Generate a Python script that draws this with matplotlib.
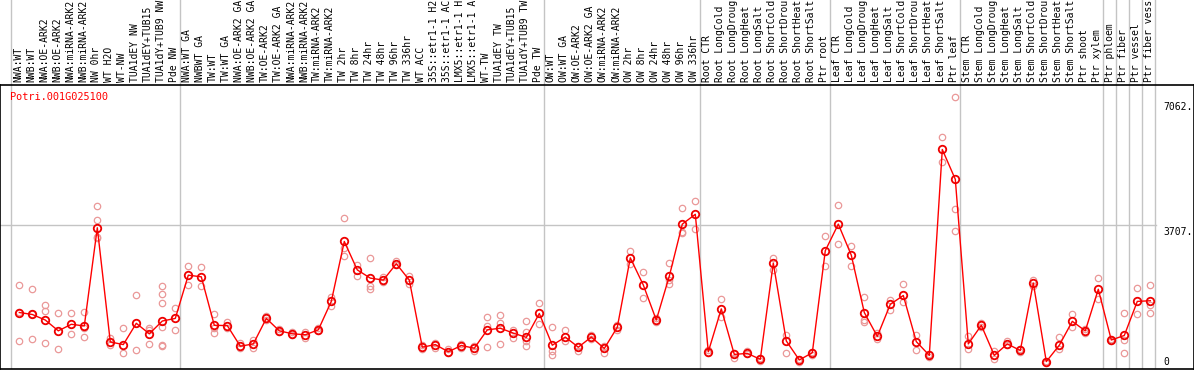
import matplotlib
matplotlib.use('Agg')
import matplotlib.pyplot as plt
import numpy as np

# Sample names, in plotting order (cut to 14 characters as in the chart)
samples = [
    'NWA:WT', 'NWB:WT', 'NWA:OE-ARK2', 'NWB:OE-ARK2', 'NWA:miRNA-ARK2',
    'NWB:miRNA-ARK2', 'NW 0hr', 'WT H2O', 'WT-NW', 'TUA1dEY NW',
    'TUA1dEY+TUB15', 'TUA1dY+TUB9 NW', 'Pde NW',
    'NWA:WT GA', 'NWBWT GA', 'TW:WT', 'TW:WT GA', 'NWA:OE-ARK2 GA',
    'NWB:OE-ARK2 GA', 'TW:OE-ARK2', 'TW:OE-ARK2 GA', 'NWA:miRNA-ARK2',
    'NWB:miRNA-ARK2', 'TW:miRNA-ARK2', 'TW:miRNA-ARK2', 'TW 2hr', 'TW 8hr',
    'TW 24hr', 'TW 48hr', 'TW 96hr', 'TW 336hr', 'WT ACC', '35S::etr1-1 H2',
    '35S::etr1-1 AC', 'LMX5::etr1-1 H', 'LMX5::etr1-1 A', 'WT-TW',
    'TUA1dEY TW', 'TUA1dEY+TUB15', 'TUA1dY+TUB9 TW', 'Pde TW',
    'OW:WT', 'OW:WT GA', 'OW:OE-ARK2', 'OW:OE-ARK2 GA', 'OW:miRNA-ARK2',
    'OW:miRNA-ARK2', 'OW 2hr', 'OW 8hr', 'OW 24hr', 'OW 48hr', 'OW 96hr',
    'OW 336hr',
    'Root CTR', 'Root LongCold', 'Root LongDroug', 'Root LongHeat',
    'Root LongSalt', 'Root ShortCold', 'Root ShortDrou', 'Root ShortHeat',
    'Root ShortSalt', 'Ptr root',
    'Leaf CTR', 'Leaf LongCold', 'Leaf LongDroug', 'Leaf LongHeat',
    'Leaf LongSalt', 'Leaf ShortCold', 'Leaf ShortDrou', 'Leaf ShortHeat',
    'Leaf ShortSalt', 'Ptr leaf',
    'Stem CTR', 'Stem LongCold', 'Stem LongDroug', 'Stem LongHeat',
    'Stem LongSalt', 'Stem ShortCold', 'Stem ShortDrou', 'Stem ShortHeat',
    'Stem ShortSalt', 'Ptr shoot', 'Ptr xylem', 'Ptr phloem', 'Ptr fiber',
    'Ptr vessel', 'Ptr fiber vess',
]

# Mean expression per sample
means = [
    1410, 1358, 1212, 928, 1100, 1057, 3638, 636, 567, 1126, 851, 1186, 1255,
    2391, 2348, 1074, 1066, 524, 584, 1255, 928, 851, 825, 954, 1702, 3277,
    2529, 2314, 2262, 2692, 2262, 498, 567, 378, 541, 472, 954, 997, 868, 756,
    1384, 550, 765, 498, 765, 464, 1023, 2847, 2133, 1212, 2365, 3733, 3991,
    378, 1505, 309, 335, 180, 2709, 662, 163, 352, 3036,
    3733, 2916, 1410, 782, 1625, 1857, 645, 283, 5695, 4912,
    584, 1074, 283, 584, 412, 2185, 120, 550, 1178, 928, 2021, 687, 807,
    1702, 1719,
]

# Individual replicates per sample
replicates = [
    [2133, 1427, 670], [2029, 1358, 722], [1599, 1444, 610], [1410, 455],
    [1393, 842], [1419, 997, 765], [4197, 3853, 3406, 3363], [739, 567],
    [997, 352], [1883, 412], [997, 954, 584],
    [2115, 1900, 1668, 1023, 567, 524], [1539, 954],
    [2632, 2141], [2606, 2115], [1358, 997, 868], [1169, 997], [610, 481],
    [679, 481], [1315, 1212], [971, 885], [885, 816], [885, 739], [997, 911],
    [1814, 1582], [3896, 3105, 2890], [2658, 2374], [2830, 2115, 2029],
    [2348, 2202], [2761, 2658], [2374, 2159], [567, 438], [610, 481],
    [438, 335], [593, 490], [524, 395], [1281, 1057, 507],
    [1333, 1126, 584], [954, 739], [1178, 894, 653, 524], [1668, 1100],
    [1023, 395, 283], [937, 653], [524, 395], [825, 713], [524, 352],
    [1083, 954], [3019, 2675], [2485, 1797], [1255, 1169],
    [2700, 2262, 2159], [4154, 3535, 3492], [4352, 3604],
    [421, 335], [1771, 1281], [352, 223], [395, 309], [223, 137],
    [2830, 2529], [825, 335], [197, 111], [369, 283], [3432, 2632],
    [4223, 3217], [3165, 2623], [1814, 1212, 1169], [868, 713],
    [1728, 1470], [2159, 1685], [825, 412], [309, 249], [6030, 5359],
    [7062, 4120, 3552],
    [799, 455], [1126, 1023], [395, 180], [653, 567], [455, 369],
    [2262, 2115], [137, 77], [765, 455], [1358, 1023], [971, 868],
    [2314, 1771], [713, 653], [1384, 679, 352], [2047, 1358],
    [2133, 1599, 1384],
]

# Indices where a new sample group starts
group_starts = [0, 13, 41, 53, 63, 73, 84, 85, 86, 87, 88]

gene = 'Potri.001G025100'
y_labels = ['7062.', '3707.', '0']

W, H = 1194, 370
font = 'DejaVu Sans Mono'
fs = 7

fig = plt.figure(figsize=(W / 100, H / 100), dpi=100)

x0_px, step_px = 19.3, 13.0
xmin = -x0_px / step_px
xmax = (W - x0_px) / step_px

head_h = 85
ax_h = fig.add_axes([0, 1 - head_h / H, 1, head_h / H])
ax = fig.add_axes([0, 1 / H, 1, (369 - head_h) / H])

grid_c = '#c4c4c4'

# header with rotated sample names
ax_h.set_xlim(xmin, xmax)
ax_h.set_ylim(0, 1)
ax_h.axis('off')
for i, name in enumerate(samples):
    ax_h.text(i - 0.1, 0.03, name, rotation=90, ha='center', va='bottom',
              fontsize=fs, family=font, color='black')
for g in group_starts:
    ax_h.axvline(g - 0.62, color=grid_c, lw=1)

# main plot
x = np.arange(len(samples))
ax.set_xlim(xmin, xmax)
ax.set_ylim(-75, 7390)
for g in group_starts:
    ax.axvline(g - 0.62, color=grid_c, lw=1, zorder=1)
ax.plot([xmin, 87.4], [3707, 3707], color=grid_c, lw=1, zorder=1)

for i, reps in enumerate(replicates):
    ax.plot([i] * len(reps), reps, 'o', ms=4.6, mfc='none', mec='#ea9898',
            mew=0.9, zorder=2)
ax.plot(x, means, '-', color='#ff0000', lw=1, zorder=3)
ax.plot(x, means, 'o', ms=5.4, mfc='none', mec='#ee0000', mew=1.3, zorder=4)

ax.set_xticks([])
ax.set_yticks([])
for side in ['left', 'bottom', 'top', 'right']:
    ax.spines[side].set_color('black')
    ax.spines[side].set_linewidth(1.2)

fig.text(10 / W, 1 - 97 / H, gene, color='#ff0000', fontsize=7.4,
         family=font, ha='left', va='center')
for lab, ypx in zip(y_labels, [107, 232, 362]):
    fig.text(1163 / W, 1 - ypx / H, lab, color='black', fontsize=fs,
             family=font, ha='left', va='center')

fig.savefig('out.png', dpi=100)
